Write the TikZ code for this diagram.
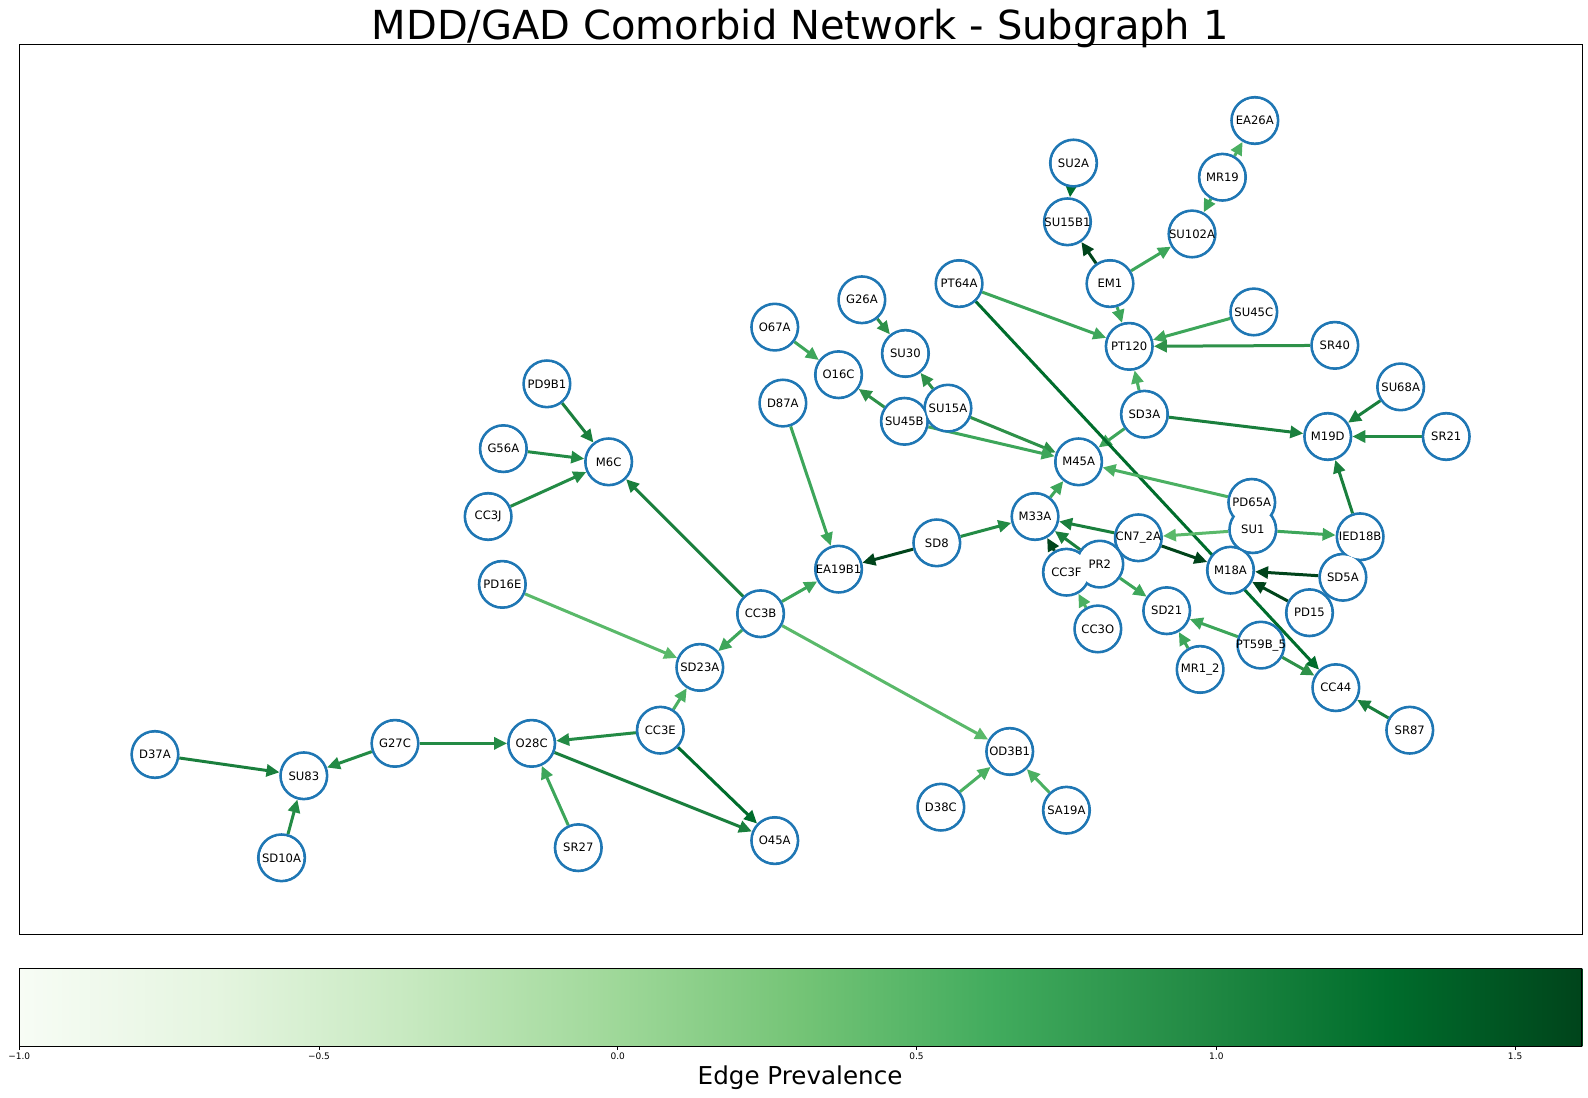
\documentclass[tikz,border=0pt]{standalone}
\usepackage{fontspec}
\setmainfont{DejaVu Sans}
\usetikzlibrary{arrows.meta}
\pgfdeclarelayer{bg}\pgfdeclarelayer{fillL}\pgfdeclarelayer{fg}
\pgfsetlayers{bg,main,fillL,fg}
\definecolor{nodeblue}{HTML}{1F77B4}
\definecolor{cA}{HTML}{00441B}
\definecolor{cB}{HTML}{006D2C}
\definecolor{cC}{HTML}{1A7F3D}
\definecolor{cD}{HTML}{238B45}
\definecolor{cE}{HTML}{2E9149}
\definecolor{cF}{HTML}{3DA65A}
\definecolor{cG}{HTML}{4BB062}
\definecolor{cH}{HTML}{5AB96A}
\definecolor{m0}{HTML}{F7FCF5}
\definecolor{m1}{HTML}{E5F5E0}
\definecolor{m2}{HTML}{C7E9C0}
\definecolor{m3}{HTML}{A1D99B}
\definecolor{m4}{HTML}{74C476}
\definecolor{m5}{HTML}{41AB5D}
\definecolor{m6}{HTML}{238B45}
\definecolor{m7}{HTML}{006D2C}
\definecolor{m8}{HTML}{00441B}
\tikzset{
  nd/.style={circle, draw=nodeblue, fill=white, line width=1.4pt, minimum size=23.2pt, inner sep=0pt},
  lab/.style={font=\fontsize{5.8}{6.5}\selectfont, inner sep=0pt},
  ed/.style={draw=#1, line width=1.5pt, -{Triangle[length=6.5pt,width=6pt,fill=#1]}},
  tick/.style={font=\fontsize{4.5}{5}\selectfont, anchor=north, inner sep=0pt}
}
\begin{document}
\begin{tikzpicture}[x=0.50638pt, y=-0.50638pt]
\useasboundingbox (0,0) rectangle (1568,1084);
% title
\node[anchor=base, font=\fontsize{20}{24}\selectfont, inner sep=0pt] (title) at (790,39) {MDD/GAD Comorbid Network - Subgraph 1};
% axes frame
\draw[line width=0.5pt] (19,44) rectangle (1563,923);
% nodes
\foreach \n/\x/\y in {EA26A/1239/119, SU2A/1060/161, MR19/1207/175, SU15B1/1054/219, SU102A/1177/231,
  EM1/1096/280, PT64A/947/280, G26A/851/296, SU45C/1238/308, O67A/765/323, SR40/1318/341, PT120/1115/342,
  SU30/894/349, O16C/828/370, SU68A/1383/382, PD9B1/540/379, D87A/773/398, SU15A/936/403, SD3A/1130/409,
  SU45B/893/416, M19D/1311/431, SR21/1428/431, G56A/497/443, M6C/601/456, M45A/1065/456, PD65A/1236/496,
  CC3J/482/510, M33A/1022/510, SU1/1237/523, CN72A/1124/531, IED18B/1343/530, SD8/925/536, PR2/1086/557,
  EA19B1/828/562, M18A/1215/563, CC3F/1053/565, SD5A/1326/570, PD16E/496/577, PD15/1293/605, CC3B/751/606,
  SD21/1152/603, CC3O/1084/621, PT59B5/1245/637, SD23A/691/659, MR12/1185/661, CC44/1319/679, CC3E/652/721,
  SR87/1392/721, D37A/153/745, G27C/390/734, O28C/525/734, OD3B1/997/742, SU83/300/766, D38C/929/797,
  SA19A/1053/800, SR27/571/837, O45A/765/830, SD10A/278/847}
  {\node[nd] (\n) at (\x,\y) {};
   \begin{pgfonlayer}{fillL}\fill[white] (\x,\y) circle (10.9pt);\end{pgfonlayer}}
% labels
\begin{pgfonlayer}{fg}
\foreach \n/\t in {EA26A/EA26A, SU2A/SU2A, MR19/MR19, SU15B1/SU15B1, SU102A/SU102A, EM1/EM1, PT64A/PT64A,
  G26A/G26A, SU45C/SU45C, O67A/O67A, SR40/SR40, PT120/PT120, SU30/SU30, O16C/O16C, SU68A/SU68A, PD9B1/PD9B1,
  D87A/D87A, SU15A/SU15A, SD3A/SD3A, SU45B/SU45B, M19D/M19D, SR21/SR21, G56A/G56A, M6C/M6C, M45A/M45A,
  PD65A/PD65A, CC3J/CC3J, M33A/M33A, SU1/SU1, CN72A/CN7\_2A, IED18B/IED18B, SD8/SD8, PR2/PR2, EA19B1/EA19B1,
  M18A/M18A, CC3F/CC3F, SD5A/SD5A, PD16E/PD16E, PD15/PD15, CC3B/CC3B, SD21/SD21, CC3O/CC3O, PT59B5/PT59B\_5,
  SD23A/SD23A, MR12/MR1\_2, CC44/CC44, CC3E/CC3E, SR87/SR87, D37A/D37A, G27C/G27C, O28C/O28C, OD3B1/OD3B1,
  SU83/SU83, D38C/D38C, SA19A/SA19A, SR27/SR27, O45A/O45A, SD10A/SD10A}
  {\node[lab] (l\n) at (\n) {\t};}
\end{pgfonlayer}
% edges
\begin{pgfonlayer}{bg}
\draw[ed=cB] (SU2A) -- (SU15B1);
\draw[ed=cA] (EM1) -- (SU15B1);
\draw[ed=cF] (EM1) -- (SU102A);
\draw[ed=cF] (MR19) -- (SU102A);
\draw[ed=cG] (MR19) -- (EA26A);
\draw[ed=cF] (EM1) -- (PT120);
\draw[ed=cF] (PT64A) -- (PT120);
\draw[ed=cF] (SU45C) -- (PT120);
\draw[ed=cE] (SR40) -- (PT120);
\draw[ed=cG] (SD3A) -- (PT120);
\draw[ed=cF] (SD3A) -- (M45A);
\draw[ed=cC] (SD3A) -- (M19D);
\draw[ed=cB] (PT64A) -- (CC44);
\draw[ed=cE] (SU15A) -- (SU30);
\draw[ed=cE] (G26A) -- (SU30);
\draw[ed=cE] (SU45B) -- (O16C);
\draw[ed=cF] (O67A) -- (O16C);
\draw[ed=cE] (SU15A) -- (M45A);
\draw[ed=cF] (SU45B) -- (M45A);
\draw[ed=cG] (PD65A) -- (M45A);
\draw[ed=cF] (M33A) -- (M45A);
\draw[ed=cD] (SD8) -- (M33A);
\draw[ed=cA] (SD8) -- (EA19B1);
\draw[ed=cF] (D87A) -- (EA19B1);
\draw[ed=cF] (CC3B) -- (EA19B1);
\draw[ed=cC] (CC3B) -- (M6C);
\draw[ed=cF] (CC3B) -- (SD23A);
\draw[ed=cH] (CC3B) -- (OD3B1);
\draw[ed=cH] (PD16E) -- (SD23A);
\draw[ed=cG] (CC3E) -- (SD23A);
\draw[ed=cD] (CC3E) -- (O28C);
\draw[ed=cB] (CC3E) -- (O45A);
\draw[ed=cC] (O28C) -- (O45A);
\draw[ed=cD] (G27C) -- (O28C);
\draw[ed=cD] (G27C) -- (SU83);
\draw[ed=cC] (D37A) -- (SU83);
\draw[ed=cD] (SD10A) -- (SU83);
\draw[ed=cF] (SR27) -- (O28C);
\draw[ed=cG] (D38C) -- (OD3B1);
\draw[ed=cG] (SA19A) -- (OD3B1);
\draw[ed=cC] (PD9B1) -- (M6C);
\draw[ed=cD] (G56A) -- (M6C);
\draw[ed=cD] (CC3J) -- (M6C);
\draw[ed=cH] (SU1) -- (CN72A);
\draw[ed=cF] (SU1) -- (IED18B);
\draw[ed=cC] (IED18B) -- (M19D);
\draw[ed=cC] (SU68A) -- (M19D);
\draw[ed=cD] (SR21) -- (M19D);
\draw[ed=cC] (CN72A) -- (M33A);
\draw[ed=cA] (CN72A) -- (M18A);
\draw[ed=cC] (PR2) -- (M33A);
\draw[ed=cA] (CC3F) -- (M33A);
\draw[ed=cF] (PR2) -- (SD21);
\draw[ed=cG] (CC3O) -- (CC3F);
\draw[ed=cA] (SD5A) -- (M18A);
\draw[ed=cA] (PD15) -- (M18A);
\draw[ed=cF] (PT59B5) -- (SD21);
\draw[ed=cE] (PT59B5) -- (CC44);
\draw[ed=cF] (MR12) -- (SD21);
\draw[ed=cC] (SR87) -- (CC44);
\end{pgfonlayer}
% colorbar
\foreach \a/\b/\i/\j in {0/1/m0/m1, 1/2/m1/m2, 2/3/m2/m3, 3/4/m3/m4, 4/5/m4/m5, 5/6/m5/m6, 6/7/m6/m7, 7/8/m7/m8}
  {\shade[left color=\i, right color=\j, shading angle=90] ({19+\a*192.875},956) rectangle ({19+\b*192.875+0.3},1033);}
\draw[line width=0.5pt] (19,956) rectangle (1562,1033);
\foreach \x/\t in {19/\char"2212 1.0, 315/\char"2212 0.5, 610/0.0, 905/0.5, 1201/1.0, 1496/1.5}
  {\draw[line width=0.4pt] (\x,1033) -- (\x,1037);
   \node[tick] at (\x,1039) {\t};}
\node[anchor=base, font=\fontsize{12.3}{14}\selectfont, inner sep=0pt] (cblabel) at (790,1071) {Edge Prevalence};
\end{tikzpicture}
\end{document}
